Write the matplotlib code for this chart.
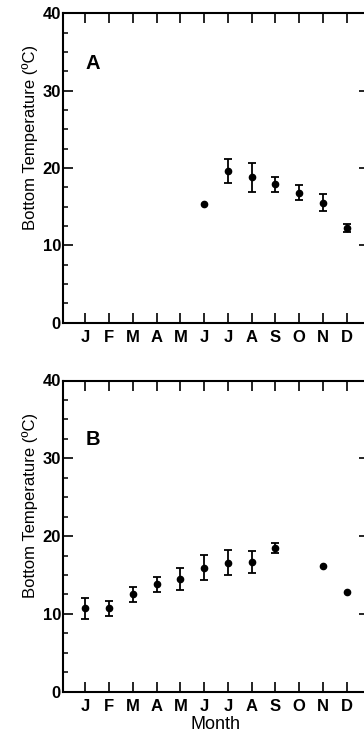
import numpy as np
import matplotlib
matplotlib.use("Agg")
import matplotlib.pyplot as plt
from matplotlib.ticker import MultipleLocator

plt.rcParams["font.family"] = ["Liberation Sans", "DejaVu Sans"]

# --- datos ---
meses = ["J", "F", "M", "A", "M", "J", "J", "A", "S", "O", "N", "D"]
mes_num = np.arange(1, 13)

# Panel A (solo jun-dic)
a_mes   = np.array([6, 7, 8, 9, 10, 11, 12])
a_media = np.array([15.3, 19.6, 18.8, 17.9, 16.8, 15.5, 12.2])
a_err   = np.array([np.nan, 1.5, 1.85, 1.0, 0.95, 1.1, 0.5])

# Panel B (sin octubre)
b_mes   = np.array([1, 2, 3, 4, 5, 6, 7, 8, 9, 11, 12])
b_media = np.array([10.7, 10.7, 12.5, 13.8, 14.5, 15.95, 16.6, 16.7, 18.45, 16.2, 12.8])
b_err   = np.array([1.4, 0.95, 0.95, 0.95, 1.45, 1.65, 1.55, 1.4, 0.6, np.nan, np.nan])

paneles = [("A", a_mes, a_media, a_err), ("B", b_mes, b_media, b_err)]

W, H = 364, 739
fig = plt.figure(figsize=(W / 100, H / 100), dpi=100, facecolor="white")

# posiciones en píxeles: (izq, arriba, abajo)
cajas = [(63, 13.3, 322.7), (63, 380.5, 691.7)]
ancho_px = 305.5

for (letra, xm, ym, ye), (x0, y_top, y_bot) in zip(paneles, cajas):
    ax = fig.add_axes([x0 / W, 1 - y_bot / H, ancho_px / W, (y_bot - y_top) / H])

    con = ~np.isnan(ye)
    ax.errorbar(xm[con], ym[con], yerr=ye[con], fmt="o", color="black",
                ms=4.5, elinewidth=1.3, capsize=3.2, capthick=1.3)
    ax.plot(xm[~con], ym[~con], "o", color="black", ms=4.5)

    ax.set_xlim(0.06, 12.92)
    ax.set_ylim(0, 40)
    ax.set_xticks(mes_num)
    ax.set_xticklabels(meses)
    ax.yaxis.set_major_locator(MultipleLocator(10))
    ax.yaxis.set_minor_locator(MultipleLocator(2.5))

    for s in ax.spines.values():
        s.set_linewidth(1.5)

    ax.tick_params(axis="both", which="major", direction="in", length=7, width=1.2,
                   top=True, right=True, labelsize=12, pad=1.5)
    ax.tick_params(axis="x", which="major", pad=5)
    ax.tick_params(axis="y", which="minor", direction="in", length=3.6, width=1.1,
                   left=True, right=True)
    for lbl in ax.get_xticklabels() + ax.get_yticklabels():
        lbl.set_fontweight("bold")

    ax.set_ylabel("Bottom Temperature (ºC)", fontsize=12)
    ax.yaxis.set_label_coords(-0.083, 0.6)

    ax.text(1.0, 33.5 if letra == "A" else 32.4, letra, fontsize=14.5,
            fontweight="bold", ha="left", va="center")

    if letra == "B":
        ax.set_xlabel("Month", fontsize=13, labelpad=2)

fig.savefig("out.png", dpi=100, facecolor="white")
